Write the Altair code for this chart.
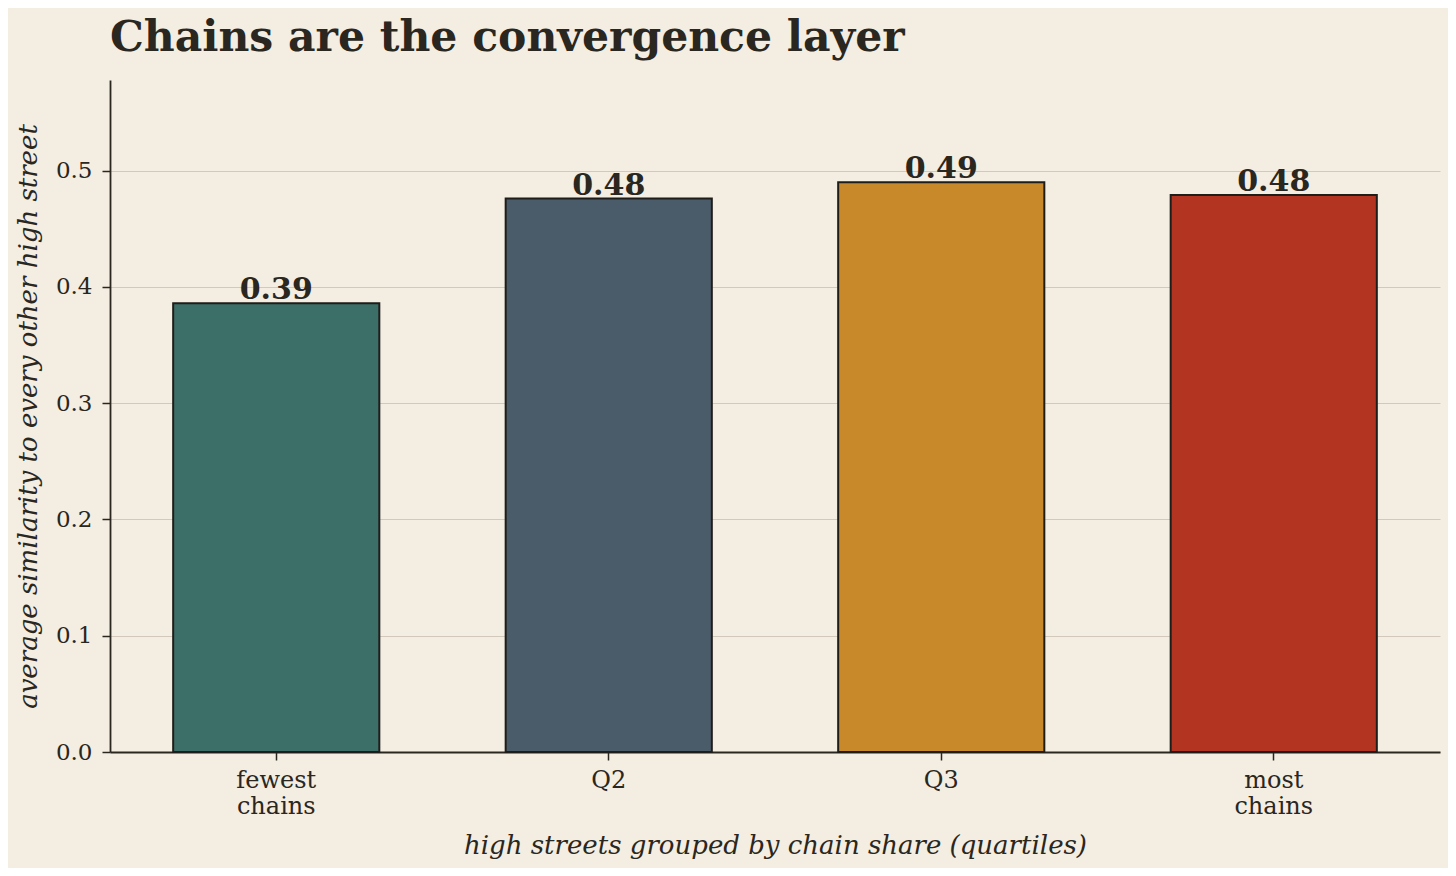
import altair as alt
import pandas as pd

groups = ["fewest\nchains", "Q2", "Q3", "most\nchains"]
values = [0.386, 0.476, 0.490, 0.479]
colors = ["#3d6f69", "#4a5c6a", "#c8892a", "#b33421"]

df = pd.DataFrame({"group": groups, "value": values, "color": colors})

FONT = "DejaVu Serif"
INK = "#2a2620"
BG = "#f3ede2"

x = alt.X(
    "group:N",
    sort=groups,
    scale=alt.Scale(paddingInner=0.38, paddingOuter=0.19),
    axis=alt.Axis(
        title="high streets grouped by chain share  (quartiles)",
        labelExpr="split(datum.label, '\\n')",
        labelAngle=0,
        labelFont=FONT,
        labelFontSize=24,
        labelColor=INK,
        labelLineHeight=26,
        labelPadding=8,
        tickSize=8,
        tickColor=INK,
        tickWidth=1.5,
        domainColor=INK,
        domainWidth=1.8,
        titleFont=FONT,
        titleFontStyle="italic",
        titleFontWeight="normal",
        titleFontSize=26,
        titleColor=INK,
        titlePadding=14,
        grid=False,
    ),
)

y = alt.Y(
    "value:Q",
    scale=alt.Scale(domain=[0, 0.578], nice=False),
    axis=alt.Axis(
        title="average similarity to every other high street",
        values=[0, 0.1, 0.2, 0.3, 0.4, 0.5],
        format=".1f",
        labelFont=FONT,
        labelFontSize=23,
        labelColor=INK,
        labelPadding=10,
        tickSize=8,
        tickColor=INK,
        tickWidth=1.5,
        domainColor=INK,
        domainWidth=1.8,
        titleFont=FONT,
        titleFontStyle="italic",
        titleFontWeight="normal",
        titleFontSize=26,
        titleColor=INK,
        titlePadding=14,
        grid=True,
        gridColor="#d3c9bb",
        gridWidth=1.2,
    ),
)

base = alt.Chart(df)

bars = base.mark_bar(stroke="#1f1d1a", strokeWidth=2).encode(
    x=x,
    y=y,
    color=alt.Color("color:N", scale=None),
)

labels = base.mark_text(
    font=FONT,
    fontSize=30,
    fontWeight="bold",
    color=INK,
    baseline="alphabetic",
    dy=-4,
).encode(
    x=alt.X("group:N", sort=groups),
    y=alt.Y("value:Q"),
    text=alt.Text("value:Q", format=".2f"),
)

chart = (
    alt.layer(bars, labels)
    .properties(
        width=1330,
        height=672,
        padding={"left": 102, "top": 72, "right": 8, "bottom": 116},
        autosize=alt.AutoSizeParams(type="none"),
        background=BG,
        title=alt.TitleParams(
            "Chains are the convergence layer",
            anchor="start",
            font=FONT,
            fontSize=42.5,
            fontWeight="bold",
            color=INK,
            baseline="alphabetic",
            offset=0,
            dy=13,
            frame="group",
        ),
    )
    .configure_view(stroke=None)
)

chart.save("out.html", embed_options={"renderer": "svg", "actions": False})
